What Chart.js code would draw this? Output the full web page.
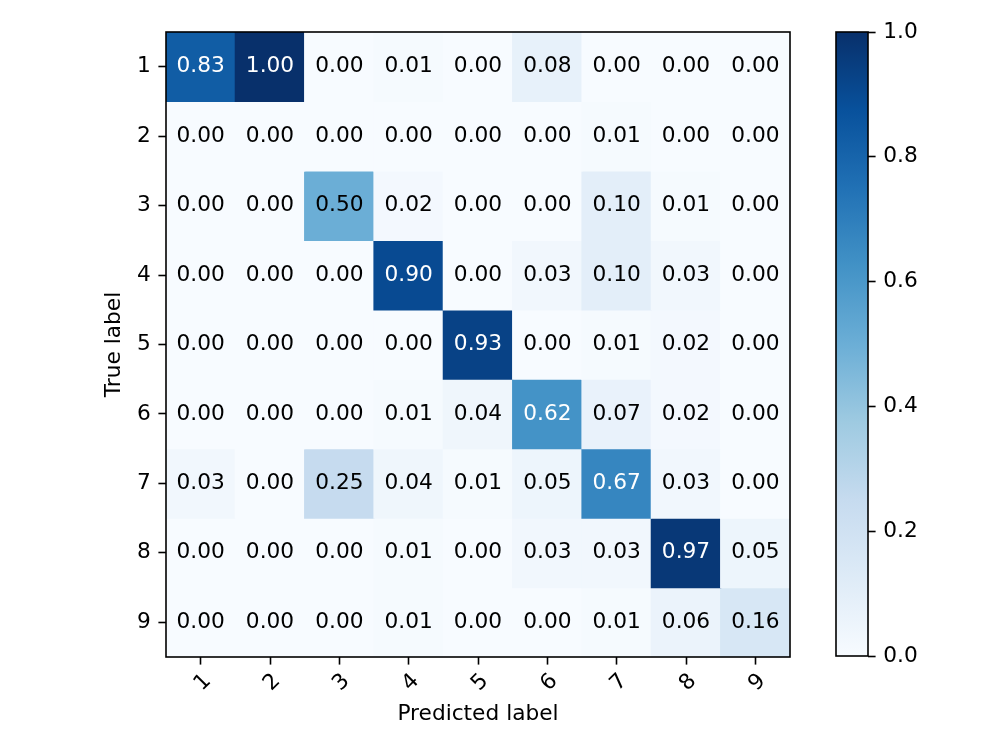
<!DOCTYPE html>
<html><head><meta charset="utf-8">
<script src="https://cdn.jsdelivr.net/npm/chart.js@4.4.0/dist/chart.umd.min.js"></script>
<style>
html,body{margin:0;padding:0;background:#fff;}
#wrap{position:relative;width:1000px;height:750px;}
canvas{position:absolute;top:0;}
</style>
</head><body>
<div id="wrap">
<canvas id="main" width="1000" height="750" style="left:0"></canvas>
<canvas id="cbar" width="200" height="750" style="left:800px"></canvas>
</div>
<script>
// ---- data ----
const predictedLabels = ['1','2','3','4','5','6','7','8','9'];
const trueLabels = ['1','2','3','4','5','6','7','8','9'];
const row1 = [0.83, 1.00, 0.00, 0.01, 0.00, 0.08, 0.00, 0.00, 0.00];
const row2 = [0.00, 0.00, 0.00, 0.00, 0.00, 0.00, 0.01, 0.00, 0.00];
const row3 = [0.00, 0.00, 0.50, 0.02, 0.00, 0.00, 0.10, 0.01, 0.00];
const row4 = [0.00, 0.00, 0.00, 0.90, 0.00, 0.03, 0.10, 0.03, 0.00];
const row5 = [0.00, 0.00, 0.00, 0.00, 0.93, 0.00, 0.01, 0.02, 0.00];
const row6 = [0.00, 0.00, 0.00, 0.01, 0.04, 0.62, 0.07, 0.02, 0.00];
const row7 = [0.03, 0.00, 0.25, 0.04, 0.01, 0.05, 0.67, 0.03, 0.00];
const row8 = [0.00, 0.00, 0.00, 0.01, 0.00, 0.03, 0.03, 0.97, 0.05];
const row9 = [0.00, 0.00, 0.00, 0.01, 0.00, 0.00, 0.01, 0.06, 0.16];
const matrix = [row1, row2, row3, row4, row5, row6, row7, row8, row9];
const colorbarTicks = [0.0, 0.2, 0.4, 0.6, 0.8, 1.0];
const vmin = 0, vmax = 1;

// ---- style ----
const FONT = 'DejaVu Sans';
const FS = 21.7;
Chart.defaults.font.family = FONT;
Chart.defaults.font.size = FS;
Chart.defaults.color = '#000';
const blues = ['#f7fbff','#deebf7','#c6dbef','#9ecae1','#6baed6','#4292c6','#2171b5','#08519c','#08306b'];
function hex(h){return [parseInt(h.substr(1,2),16),parseInt(h.substr(3,2),16),parseInt(h.substr(5,2),16)];}
function cmap(v){
  let t = (v - vmin) / (vmax - vmin);
  t = Math.max(0, Math.min(1, t));
  const p = t * (blues.length - 1);
  const i = Math.min(Math.floor(p), blues.length - 2);
  const f = p - i;
  const a = hex(blues[i]), b = hex(blues[i+1]);
  const c = a.map((x,k)=>Math.round(x + (b[k]-x)*f));
  return 'rgb(' + c.join(',') + ')';
}

const datasets = matrix.map((row, r) => ({
  label: trueLabels[r],
  data: row.map(() => [r + 0.5, r + 1.5]),
  backgroundColor: row.map(v => cmap(v)),
  borderWidth: 0,
  grouped: false,
  barPercentage: 1.0,
  categoryPercentage: 1.0,
  inflateAmount: 0.6
}));

const cellText = {
  id: 'cellText',
  afterDatasetsDraw(chart) {
    const ctx = chart.ctx;
    const xs = chart.scales.x, ys = chart.scales.y;
    const thresh = (vmax + vmin) / 2;
    ctx.save();
    ctx.font = FS + 'px "' + FONT + '"';
    ctx.textAlign = 'center';
    ctx.textBaseline = 'middle';
    matrix.forEach((row, r) => {
      row.forEach((v, c) => {
        ctx.fillStyle = v > thresh ? '#fff' : '#000';
        ctx.fillText(v.toFixed(2), xs.getPixelForValue(c), ys.getPixelForValue(r + 1));
      });
    });
    ctx.restore();
  }
};
const frame = {
  id: 'frame',
  afterDraw(chart) {
    const a = chart.chartArea, ctx = chart.ctx;
    ctx.save();
    ctx.strokeStyle = '#000';
    ctx.lineWidth = 1.6;
    ctx.strokeRect(a.left, a.top, a.right - a.left, a.bottom - a.top);
    ctx.restore();
  }
};

new Chart(document.getElementById('main'), {
  type: 'bar',
  data: { labels: predictedLabels, datasets },
  options: {
    responsive: false,
    animation: false,
    devicePixelRatio: 1,
    layout: { padding: { left: 0, top: 32, right: 210, bottom: 0 } },
    plugins: { legend: { display: false }, tooltip: { enabled: false } },
    scales: {
      x: {
        type: 'category',
        offset: true,
        grid: { display: true, drawOnChartArea: false, tickLength: 7.6, tickWidth: 1.6, color: '#000', offset: false },
        border: { display: false },
        ticks: { minRotation: 45, maxRotation: 45, padding: 4, labelOffset: 7, color: '#000', font: { size: FS } },
        title: { display: true, text: 'Predicted label', color: '#000', font: { size: FS }, padding: { top: 0, bottom: 23 } },
        afterFit(s) { s.height = 93; }
      },
      y: {
        type: 'linear',
        reverse: true,
        min: 0.5,
        max: 9.5,
        ticks: { padding: 7.6, color: '#000', font: { size: FS }, callback: (v) => trueLabels[Math.round(v) - 1] },
        afterBuildTicks(s) { s.ticks = trueLabels.map((_, i) => ({ value: i + 1 })); },
        grid: { display: true, drawOnChartArea: false, tickLength: 7.6, tickWidth: 1.6, color: '#000' },
        border: { display: false },
        title: { display: true, text: 'True label', color: '#000', font: { size: FS }, padding: { top: 101, bottom: 0 } },
        afterFit(s) { s.width = 166; }
      }
    }
  },
  plugins: [cellText, frame]
});

// ---- colorbar ----
function cbarGradient(ctx) {
  const chart = ctx.chart;
  const a = chart.chartArea;
  if (!a) return blues[4];
  const g = chart.ctx.createLinearGradient(0, a.bottom, 0, a.top);
  blues.forEach((c, i) => g.addColorStop(i / (blues.length - 1), c));
  return g;
}
new Chart(document.getElementById('cbar'), {
  type: 'bar',
  data: { labels: [''], datasets: [{ data: [[vmin, vmax]], backgroundColor: cbarGradient, borderWidth: 0, barPercentage: 1.0, categoryPercentage: 1.0 }] },
  options: {
    responsive: false,
    animation: false,
    devicePixelRatio: 1,
    layout: { padding: { left: 36, top: 32, right: 0, bottom: 94 } },
    plugins: { legend: { display: false }, tooltip: { enabled: false } },
    scales: {
      x: { display: false },
      y: {
        position: 'right',
        min: vmin, max: vmax,
        afterBuildTicks(s) { s.ticks = colorbarTicks.map(v => ({ value: v })); },
        ticks: { padding: 7.6, color: '#000', font: { size: FS }, callback: (v) => Number(v).toFixed(1) },
        grid: { display: true, drawOnChartArea: false, tickLength: 7.6, tickWidth: 1.6, color: '#000' },
        border: { display: false },
        afterFit(s) { s.width = 132; }
      }
    }
  },
  plugins: [frame]
});
</script>
</body></html>
